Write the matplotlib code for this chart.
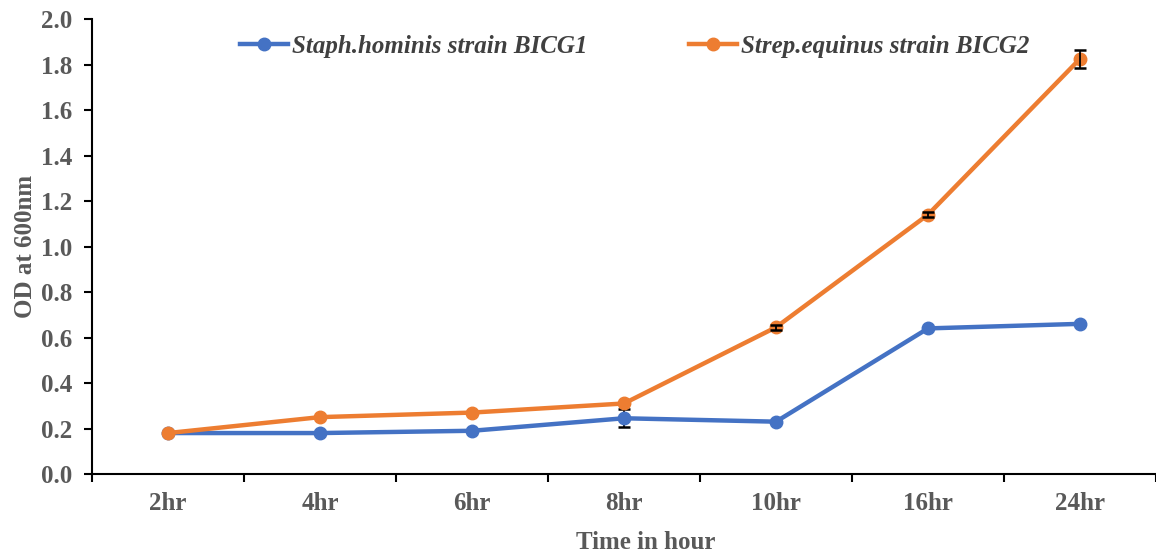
import matplotlib
matplotlib.use('Agg')
from matplotlib import pyplot as plt
from matplotlib.ticker import FixedLocator, FormatStrFormatter
import numpy as np

hours = ['2hr', '4hr', '6hr', '8hr', '10hr', '16hr', '24hr']

staph = [0.18, 0.18, 0.19, 0.245, 0.23, 0.64, 0.66]
staph_err = [0.0, 0.0, 0.0, 0.04, 0.0, 0.0, 0.0]

strep = [0.18, 0.25, 0.27, 0.31, 0.645, 1.14, 1.825]
strep_err = [0.0, 0.0, 0.0, 0.0, 0.01, 0.01, 0.04]

blue = '#4472C4'
orange = '#ED7D31'
grey = '#595959'

plt.rcParams['font.family'] = ['Liberation Serif', 'DejaVu Serif']

fig = plt.figure(figsize=(11.56, 5.54), dpi=100)
ax = fig.add_axes([0.0796, 0.1444, 0.9204, 0.8213])

x = np.arange(len(hours))

ax.plot(x, staph, color=blue, lw=3.2, marker='o', ms=9,
        label='Staph.hominis strain BICG1', zorder=3)
ax.plot(x, strep, color=orange, lw=3.2, marker='o', ms=9,
        label='Strep.equinus strain BICG2', zorder=4)

# only draw the error bars that are big enough to show
for vals, errs, z in [(staph, staph_err, 2.5), (strep, strep_err, 5)]:
    vals = np.array(vals)
    errs = np.array(errs)
    m = errs > 0
    ax.errorbar(x[m], vals[m], yerr=errs[m], fmt='none', ecolor='black',
                elinewidth=1.3, capsize=4, capthick=1.8, zorder=z)

ax.set_xlim(-0.5, 6.5)
ax.set_ylim(0, 2.0)
ax.set_yticks(np.arange(0, 2.01, 0.2))
ax.yaxis.set_major_formatter(FormatStrFormatter('%.1f'))

# category ticks on the boundaries, labels in the middle (Excel style)
ax.xaxis.set_major_locator(FixedLocator(np.arange(-0.5, 7, 1)))
ax.xaxis.set_minor_locator(FixedLocator(x))
ax.set_xticklabels([])
ax.set_xticklabels(hours, minor=True)
ax.tick_params(axis='x', which='minor', length=0, pad=13)
ax.tick_params(axis='y', which='major', pad=8)
ax.tick_params(axis='both', which='major', direction='out', length=6,
               width=1.5, color='black')
ax.tick_params(axis='both', which='both', labelsize=18, labelcolor=grey)
for lab in ax.get_xticklabels(minor=True) + ax.get_yticklabels():
    lab.set_fontweight('bold')

for s in ['top', 'right']:
    ax.spines[s].set_visible(False)
for s in ['left', 'bottom']:
    ax.spines[s].set_linewidth(1.5)

ax.set_xlabel('Time in hour', fontsize=18, fontweight='bold', color=grey)
ax.xaxis.set_label_coords(0.52, -0.125)
ax.set_ylabel('OD at 600nm', fontsize=18, fontweight='bold', color=grey)
ax.yaxis.set_label_coords(-0.052, 0.5)

leg = ax.legend(ncol=2, loc='upper center', bbox_to_anchor=(0.51, 1.015),
                frameon=False, handlelength=1.9, handletextpad=0.15,
                columnspacing=4.1,
                prop={'size': 18, 'style': 'italic', 'weight': 'bold'})
for t in leg.get_texts():
    t.set_color('#404040')

fig.savefig('out.png', dpi=100)
